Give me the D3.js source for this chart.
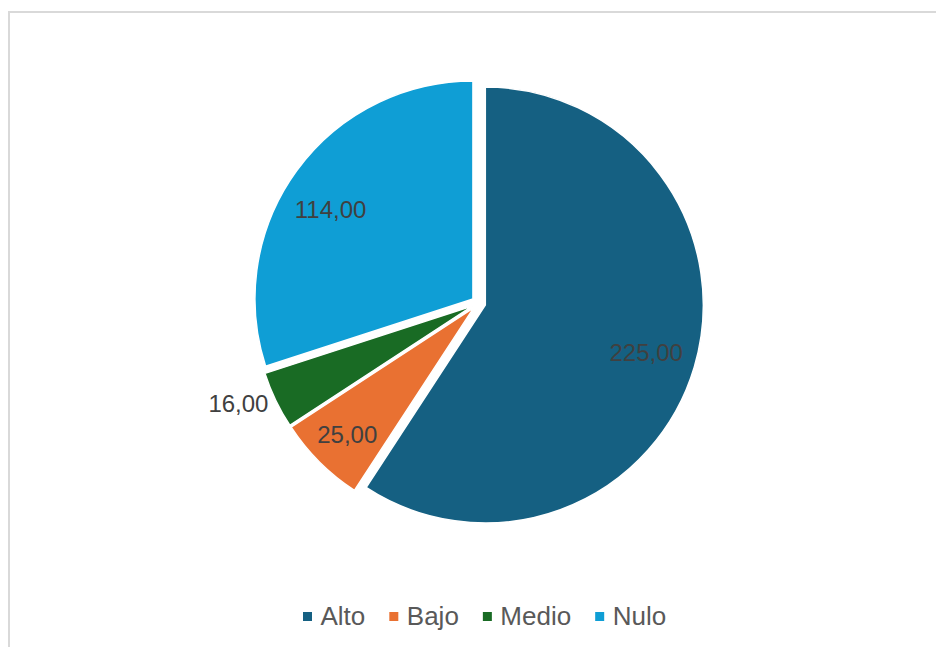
<!DOCTYPE html>
<html><head><meta charset="utf-8">
<script src="https://cdn.jsdelivr.net/npm/d3@7/dist/d3.min.js"></script>
<style>body{margin:0;background:#fff}svg{display:block}text{font-family:"Liberation Sans",Arial,sans-serif}</style>
</head><body>
<script>
const categories = ["Alto", "Bajo", "Medio", "Nulo"];
const values = [225, 25, 16, 114];
const labels = ["225,00", "25,00", "16,00", "114,00"];
const colors = ["#156082", "#E97132", "#196B24", "#0F9ED5"];

const W = 936, H = 647;
const svg = d3.select("body").append("svg").attr("width", W).attr("height", H);

// chart border
svg.append("rect").attr("x", 9).attr("y", 12).attr("width", 940).attr("height", 650)
  .attr("fill", "#fff").attr("stroke", "#d9d9d9").attr("stroke-width", 2);

const cx = 478.6, cy = 303, R = 218, explode = 7;
const data = categories.map((c, i) => ({cat: c, value: values[i], label: labels[i], color: colors[i]}));
const pie = d3.pie().value(d => d.value).sort(null);
const arcs = pie(data);
const arc = d3.arc().innerRadius(0).outerRadius(R);

const g = svg.append("g").attr("transform", `translate(${cx},${cy})`);
arcs.forEach(a => {
  const mid = (a.startAngle + a.endAngle) / 2;
  a.ox = Math.sin(mid) * explode;
  a.oy = -Math.cos(mid) * explode;
  a.mid = mid;
});
const sl = g.selectAll("g.slice").data(arcs).enter().append("g")
  .attr("transform", d => `translate(${d.ox},${d.oy})`);
sl.append("path").attr("d", arc).attr("fill", d => d.data.color)
  .attr("stroke", "#fff").attr("stroke-width", 1.5);

sl.each(function(d) {
  const span = d.endAngle - d.startAngle;
  const el = d3.select(this);
  if (span < 0.3) {
    const rr = R + 8;
    el.append("text")
      .attr("x", Math.sin(d.mid) * rr).attr("y", -Math.cos(d.mid) * rr)
      .attr("text-anchor", "end").attr("dy", "0.35em")
      .attr("font-size", 24).attr("fill", "#404040").text(d.data.label);
  } else {
    const f = span < 0.6 ? 0.82 : 0.77;
    const a = span > 3 ? d.mid : d.mid - (span > 1.5 ? 0.07 : 0);
    el.append("text")
      .attr("x", Math.sin(a) * R * f).attr("y", -Math.cos(a) * R * f)
      .attr("text-anchor", "middle").attr("dy", "0.35em")
      .attr("font-size", 24).attr("fill", "#404040").text(d.data.label);
  }
});

// legend
const legend = svg.append("g");
let x = 303;
const ly = 625;
data.forEach(d => {
  legend.append("rect").attr("x", x).attr("y", 612).attr("width", 9).attr("height", 9).attr("fill", d.color);
  const t = legend.append("text").attr("x", x + 17.5).attr("y", ly)
    .attr("font-size", 26).attr("fill", "#595959").text(d.cat);
  const w = t.node().getComputedTextLength();
  x = x + 17.5 + w + 24;
});
</script>
</body></html>
